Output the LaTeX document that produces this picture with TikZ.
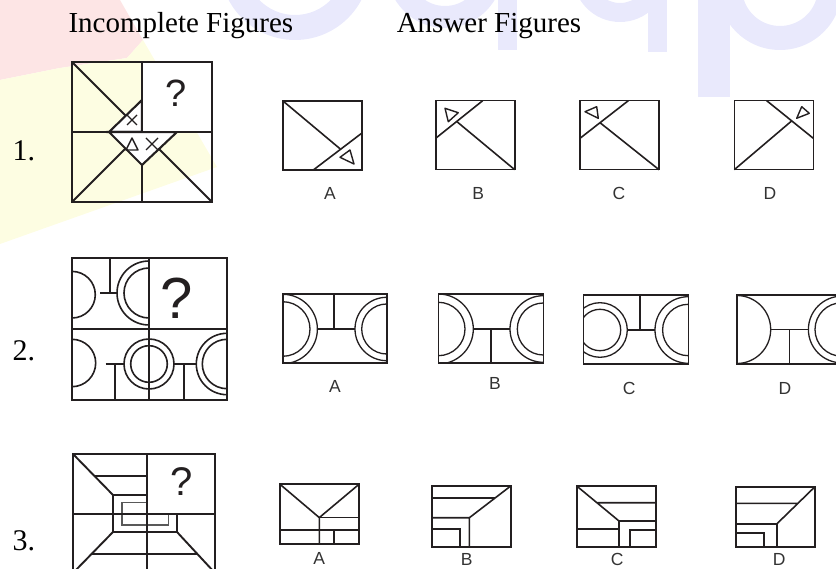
\documentclass[tikz,border=0pt]{standalone}
\usepackage{fontspec}
\setmainfont{Liberation Serif}
\setsansfont{Liberation Sans}
\usetikzlibrary{positioning}
\definecolor{inkblack}{RGB}{35,31,32}
\definecolor{labelgray}{RGB}{51,51,51}
\definecolor{wmpink}{RGB}{253,229,229}
\definecolor{wmyellow}{RGB}{253,253,226}
\definecolor{wmblue}{RGB}{233,233,252}
\tikzset{
  heading/.style={font=\fontsize{29}{29}\selectfont, text=black, inner sep=0pt},
  rownum/.style={font=\fontsize{30}{30}\selectfont, text=black, inner sep=0pt},
  optlabel/.style={font=\sffamily\fontsize{17.5}{17.5}\selectfont, text=labelgray, inner sep=0pt},
  qmark/.style={font=\sffamily\fontsize{38}{38}\selectfont, text=inkblack, inner sep=0pt},
  qline/.style={draw=inkblack, line width=2.1pt},
  qbox/.style={draw=inkblack, fill=white, line width=2.1pt},
  aline/.style={draw=inkblack, line width=1.6pt},
  arcline/.style={draw=inkblack, line width=1.3pt},
  thinline/.style={draw=inkblack, line width=1.1pt},
  thickline/.style={draw=inkblack, line width=2.3pt},
  symb/.style={draw=inkblack, line width=1.4pt, line join=round}
}
\begin{document}
\begin{tikzpicture}[x=1pt, y=-1pt]
  \clip (0,0) rectangle (836,569);
  % watermark
  \fill[wmpink] (0,0) -- (120,0) -- (143,40) -- (127,58) -- (60,68) -- (0,80) -- cycle;
  \fill[wmyellow] (0,80) -- (60,68) -- (127,58) -- (143,40) -- (217,167) -- (0,244) -- cycle;
  \fill[wmblue, even odd rule] (295,-35) circle[radius=75] (295,-35) circle[radius=50];
  \fill[wmblue, even odd rule] (445,-30) circle[radius=58] (445,-30) circle[radius=36];
  \fill[wmblue] (498,0) rectangle (517,50);
  \fill[wmblue, even odd rule] (620,-25) circle[radius=47] (620,-25) circle[radius=28];
  \fill[wmblue] (648,0) rectangle (667,52);
  \fill[wmblue] (698,0) rectangle (730,97);
  \fill[wmblue, even odd rule] (780,-12) circle[radius=62] (780,-12) circle[radius=38];

  % headings
  \node[heading, anchor=base west] (incomplete) at (68.3,32.3) {Incomplete Figures};
  \node[heading, anchor=base west] (answers) at (396.6,32.3) {Answer Figures};

  % row numbers
  \node[rownum, anchor=base west] (row1) at (12.5,161) {1.};
  \node[rownum, anchor=base west] (row2) at (12.5,361) {2.};
  \node[rownum, anchor=base west] (row3) at (12.5,550) {3.};

  % Question 1
  \begin{scope}[shift={(72,62)}]
    \draw[qline] (0,0) -- (70,70);
    \draw[qline] (0,140) -- (70,70) -- (140,140);
    \draw[qline] (70,0) -- (70,140);
    \draw[qline] (0,70) -- (140,70);
    \filldraw[qbox] (70,38) -- (37,70) -- (70,70) -- cycle;
    \filldraw[qbox] (37,70) -- (70,103) -- (105,70) -- cycle;
    \draw[symb] (55,53) -- (65,63) (55,63) -- (65,53);
    \draw[symb] (54,88) -- (66,88) -- (60,76) -- cycle;
    \draw[symb] (74,76) -- (86,88) (74,88) -- (86,76);
    \filldraw[qbox] (70,0) rectangle (140,70);
    \draw[qline] (0,0) rectangle (140,140);
  \end{scope}
  \node[qmark] (q1) at (176,93) {?};

  % Answers 1
  \begin{scope}[shift={(283,101)}]
    \draw[aline] (0,0) -- (57.3,48);
    \draw[aline] (30.3,69) -- (79,32);
    \draw[symb] (57,56.3) -- (67,49) -- (71,63) -- cycle;
    \draw[aline] (0,0) rectangle (79,69);
  \end{scope}
  \begin{scope}[shift={(435.7,100.7)}]
    \draw[aline] (47,0) -- (0,37.6);
    \draw[aline] (21,20.8) -- (79,69);
    \draw[symb] (9.3,7.6) -- (22.6,12) -- (12.6,21) -- cycle;
    \draw[aline] (0,0) rectangle (79,69);
  \end{scope}
  \begin{scope}[shift={(580,100.7)}]
    \draw[aline] (48.3,0) -- (0,37.6);
    \draw[aline] (20,22) -- (79,69);
    \draw[symb] (5,11) -- (16.7,6) -- (18.3,17.6) -- cycle;
    \draw[aline] (0,0) rectangle (79,69);
  \end{scope}
  \begin{scope}[shift={(734.3,100.7)}]
    \draw[aline] (32.4,0) -- (79,37.6);
    \draw[aline] (0,69) -- (57.4,20.2);
    \draw[symb] (62.4,17.6) -- (67.4,6) -- (75,12.6) -- cycle;
    \draw[aline] (0,0) rectangle (79,69);
  \end{scope}
  \node[optlabel] (a1) at (330,193.3) {A};
  \node[optlabel] (b1) at (478.3,193.3) {B};
  \node[optlabel] (c1) at (619,193.3) {C};
  \node[optlabel] (d1) at (770,193.3) {D};

  % Question 2
  \begin{scope}[shift={(72,258)}]
    \begin{scope}
      \clip (0,0) rectangle (155,142);
      \draw[arcline, line width=1.6pt] (0,36.7) circle[radius=23.3];
      \draw[arcline, line width=1.6pt] (37.7,0) -- (37.7,35) (28.3,35) -- (45,35);
      \draw[arcline, line width=1.6pt] (77,35) circle[radius=32] (77,35) circle[radius=25];
      \draw[arcline, line width=1.6pt] (0,105) circle[radius=23.7];
      \draw[arcline, line width=1.6pt] (33.7,106) -- (52,106) (42.7,106) -- (42.7,142);
      \draw[arcline, line width=1.6pt] (77,106) circle[radius=25] (77,106) circle[radius=18.3];
      \draw[arcline, line width=1.6pt] (102,106) -- (124.3,106) (111.7,106) -- (111.7,142);
      \draw[arcline, line width=1.6pt] (155,106) circle[radius=30.7] (155,106) circle[radius=24.7];
    \end{scope}
    \draw[qline, line width=1.9pt] (77,0) -- (77,142) (0,71) -- (155,71);
    \filldraw[qbox, line width=1.9pt] (77,0) rectangle (155,71);
    \draw[qline, line width=1.9pt] (0,0) rectangle (155,142);
  \end{scope}
  \node[qmark, font=\sffamily\fontsize{58}{58}\selectfont] (q2) at (177,298) {?};

  % Answers 2
  \begin{scope}[shift={(282.7,294.3)}]
    \begin{scope}
      \clip (0,0) rectangle (104,69);
      \draw[arcline] (0,34.7) circle[radius=34.7] (0,34.7) circle[radius=27.3];
      \draw[arcline] (104,34.7) circle[radius=31.7] (104,34.7) circle[radius=25];
      \draw[arcline] (34.7,34.7) -- (72.3,34.7) (51.3,0) -- (51.3,34.7);
    \end{scope}
    \draw[aline] (0,0) rectangle (104,69);
  \end{scope}
  \begin{scope}[shift={(438.3,294.3)}]
    \begin{scope}
      \clip (0,0) rectangle (105,69);
      \draw[arcline] (0,34.7) circle[radius=35] (0,34.7) circle[radius=26.7];
      \draw[arcline] (105,34.7) circle[radius=33.3] (105,34.7) circle[radius=26];
      \draw[arcline] (35,34.7) -- (71.7,34.7) (52.7,34.7) -- (52.7,69);
    \end{scope}
    \draw[aline] (0,0) rectangle (105,69);
  \end{scope}
  \begin{scope}[shift={(583.3,295)}]
    \begin{scope}
      \clip (0,0) rectangle (105,69.3);
      \draw[arcline] (16.7,35) circle[radius=27.3] (16.7,35) circle[radius=20.7];
      \draw[arcline] (105,35) circle[radius=33.3] (105,35) circle[radius=25.7];
      \draw[arcline] (44,35) -- (71.7,35) (56.7,0) -- (56.7,35);
    \end{scope}
    \draw[aline] (0,0) rectangle (105,69.3);
  \end{scope}
  \begin{scope}[shift={(736.7,295)}]
    \begin{scope}
      \clip (0,0) rectangle (105,69);
      \draw[arcline] (0,34.5) circle[radius=34];
      \draw[arcline] (105,34.5) circle[radius=33.3] (105,34.5) circle[radius=26.7];
      \draw[arcline] (34,34.5) -- (71.7,34.5) (52.7,34.5) -- (52.7,69);
    \end{scope}
    \draw[aline] (0,0) rectangle (105,69);
  \end{scope}
  \node[optlabel] (a2) at (335,386.7) {A};
  \node[optlabel] (b2) at (495,383.3) {B};
  \node[optlabel] (c2) at (629.3,388.3) {C};
  \node[optlabel] (d2) at (785,388.3) {D};

  % Question 3
  \begin{scope}[shift={(73,454)}]
    \draw[qline, line width=1.9pt] (0,0) -- (40,41) (40,78) -- (0,119) (104,78) -- (142,119) (142,0) -- (104,41);
    \draw[qline, line width=1.9pt] (21.5,22) -- (120.5,22) (18.5,100) -- (124.4,100);
    \draw[qline, line width=1.9pt] (40,41) rectangle (104,78);
    \draw[draw=gray!70!black, line width=1.3pt] (49,48.7) rectangle (95.7,71);
    \draw[qline, line width=1.9pt] (74,0) -- (74,119) (0,60) -- (142,60);
    \filldraw[qbox, line width=1.9pt] (74,0) rectangle (142,60);
    \draw[qline, line width=1.9pt] (0,0) rectangle (142,119);
  \end{scope}
  \node[qmark, font=\sffamily\fontsize{40}{40}\selectfont] (q3) at (181.3,481.3) {?};

  % Answers 3
  \begin{scope}[shift={(280,484.3)}]
    \draw[aline] (0,0) -- (39.3,33.3) -- (79,0) (39.3,33.3) -- (39.3,59.7);
    \draw[thinline] (39.3,33.3) -- (79,33.3) (54,45.7) -- (54,59.7);
    \draw[thickline] (0,45.7) -- (79,45.7);
    \draw[aline, line width=1.8pt] (0,0) rectangle (79,59.7);
  \end{scope}
  \begin{scope}[shift={(431.7,486)}]
    \draw[thickline] (0,12.3) -- (63,12.3);
    \draw[aline] (79,0) -- (37.7,31.7) (0,31.7) -- (37.7,31.7) -- (37.7,60.7);
    \draw[thickline] (0,43) -- (28.3,43) -- (28.3,60.7);
    \draw[aline, line width=1.8pt] (0,0) rectangle (79,60.7);
  \end{scope}
  \begin{scope}[shift={(576.7,486)}]
    \draw[aline] (0,0) -- (42.3,35) (20.2,16.7) -- (79.3,16.7);
    \draw[aline] (42.3,35) -- (79.3,35) (42.3,35) -- (42.3,60.7) (0,43) -- (42.3,43);
    \draw[aline] (53.3,60.7) -- (53.3,44) -- (79.3,44);
    \draw[aline, line width=1.8pt] (0,0) rectangle (79.3,60.7);
  \end{scope}
  \begin{scope}[shift={(736,486.7)}]
    \draw[aline] (79,0) -- (40.7,37.3) (0,16.7) -- (61.9,16.7);
    \draw[aline] (0,37.3) -- (40.7,37.3);
    \draw[thickline] (40.7,37.3) -- (40.7,60);
    \draw[aline] (0,46) -- (28,46) -- (28,60);
    \draw[aline, line width=1.8pt] (0,0) rectangle (79,60);
  \end{scope}
  \node[optlabel] (a3) at (319.3,558.5) {A};
  \node[optlabel] (b3) at (466.7,559) {B};
  \node[optlabel] (c3) at (617.3,559) {C};
  \node[optlabel] (d3) at (779.3,559) {D};
\end{tikzpicture}
\end{document}
